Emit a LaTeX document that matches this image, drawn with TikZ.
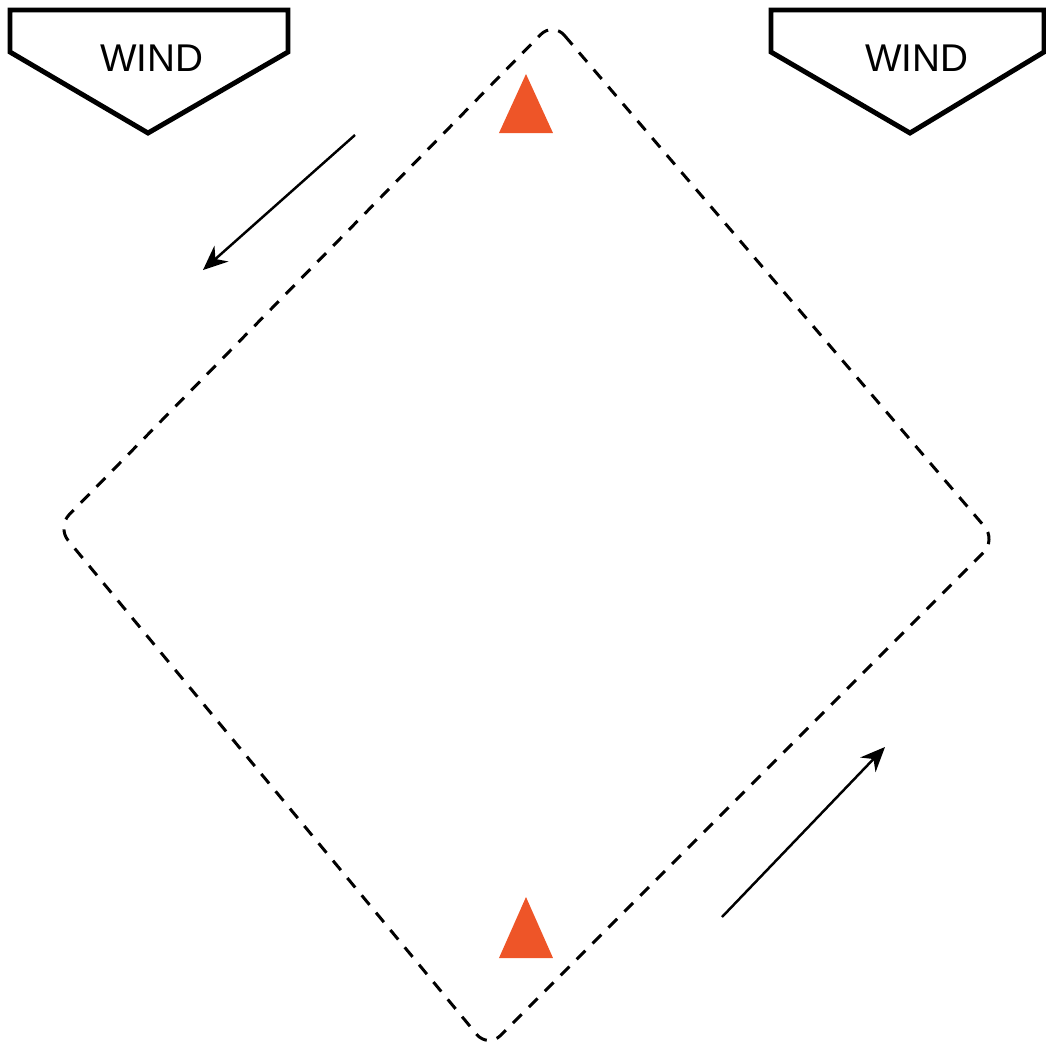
\documentclass[tikz,border=0pt]{standalone}
\usepackage{fontspec}
\setmainfont{Liberation Sans}
\usetikzlibrary{arrows.meta}
\definecolor{buoyred}{HTML}{EE5528}

\begin{document}
\begin{tikzpicture}[x=0.01cm,y=-0.01cm,
  sign/.style={draw,line width=1.4pt,fill=white,line join=miter},
  lap/.style={dashed,dash pattern=on 3.5pt off 2.9pt,line width=0.85pt,rounded corners=5pt},
  drift/.style={-{Stealth[length=7pt,width=6pt]},line width=0.7pt}]
  \useasboundingbox (0,0) rectangle (1046,1053);
  % wind signs
  \draw[sign] (10,10) -- (288,10) -- (288,52) -- (148,133) -- (10,52) -- cycle;
  \draw[sign] (771,10) -- (1044,10) -- (1044,52) -- (910,133) -- (771,52) -- cycle;
  \node[font=\fontsize{11}{13}\selectfont] (W1) at (152,58) {WIND};
  \node[font=\fontsize{11}{13}\selectfont] (W2) at (917,58) {WIND};
  % course
  \coordinate (T) at (553,22);
  \coordinate (R) at (996,540);
  \coordinate (B) at (488,1048);
  \coordinate (L) at (57,527);
  \draw[lap] (T) -- (R) -- (B) -- (L) -- cycle;
  % marks
  \fill[buoyred] (526,74) -- (553,133) -- (499,133) -- cycle;
  \fill[buoyred] (526,897) -- (553,958) -- (499,958) -- cycle;
  % direction
  \coordinate (a1) at (355,135); \coordinate (a2) at (203,270);
  \coordinate (b1) at (722,917); \coordinate (b2) at (885,747);
  \draw[drift] (a1) -- (a2);
  \draw[drift] (b1) -- (b2);
\end{tikzpicture}
\end{document}
